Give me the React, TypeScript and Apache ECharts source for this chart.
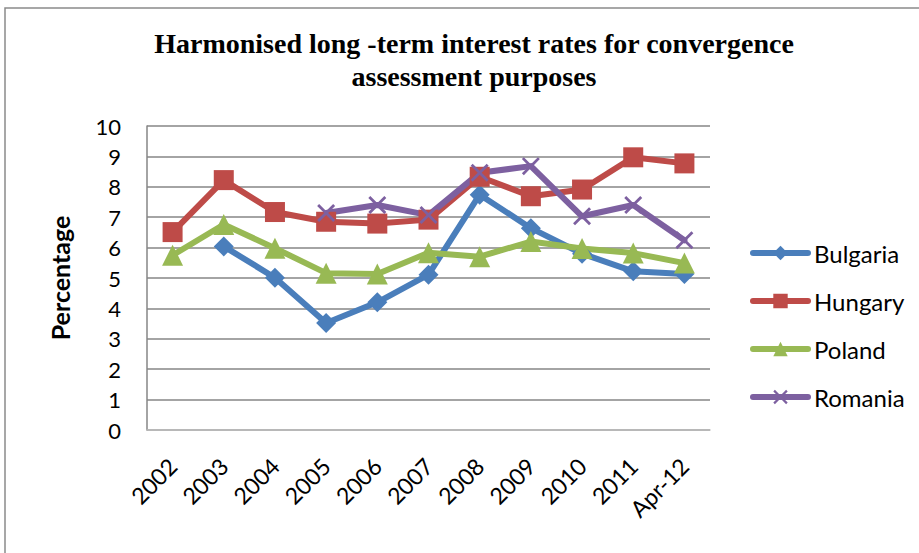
import React, { useEffect, useRef } from "react";
import * as echarts from "echarts";

const categories = ["2002", "2003", "2004", "2005", "2006", "2007", "2008", "2009", "2010", "2011", "Apr-12"];
const bulgaria = [null, 6.04, 5.01, 3.52, 4.2, 5.11, 7.74, 6.64, 5.8, 5.22, 5.13];
const hungary = [6.51, 8.22, 7.17, 6.85, 6.79, 6.92, 8.33, 7.69, 7.91, 8.97, 8.77];
const poland = [5.75, 6.76, 5.98, 5.16, 5.13, 5.83, 5.7, 6.2, 5.97, 5.82, 5.49];
const romania = [null, null, null, 7.14, 7.4, 7.07, 8.46, 8.68, 7.03, 7.4, 6.24];

const crossPath = "path://M0,1.1L1.1,0L5,3.9L8.9,0L10,1.1L6.1,5L10,8.9L8.9,10L5,6.1L1.1,10L0,8.9L3.9,5Z";

export default function App() {
  const ref = useRef<HTMLDivElement>(null);
  useEffect(() => {
    const chart = echarts.init(ref.current!, null, { renderer: "svg" });
    const font = "Lato, 'Noto Sans', sans-serif";
    const mk = (name: string, data: any[], color: string, symbol: string, size: number) => ({
      name,
      type: "line",
      data,
      symbol,
      symbolSize: size,
      connectNulls: false,
      lineStyle: { width: 6, color, cap: "round", join: "round" },
      itemStyle: { color },
    });
    chart.setOption({
      animation: false,
      backgroundColor: "#ffffff",
      title: {
        text: "Harmonised long -term interest rates for convergence\nassessment purposes",
        left: 469,
        textAlign: "center",
        top: 22,
        textStyle: {
          fontFamily: "'Liberation Serif', 'Times New Roman', serif",
          fontWeight: "bold",
          fontSize: 28,
          lineHeight: 33,
          color: "#000",
        },
      },
      graphic: [
        {
          type: "rect",
          shape: { x: 5, y: 8, width: 1000, height: 1000 },
          style: { fill: "none", stroke: "#8a8a8a", lineWidth: 1.5 },
          silent: true,
        },
      ],
      legend: {
        orient: "vertical",
        left: 750,
        top: 241,
        padding: 0,
        itemWidth: 55,
        itemHeight: 18,
        itemGap: 24,
        lineStyle: { width: 6 },
        textStyle: { fontFamily: font, fontSize: 24, color: "#000", padding: [0, 0, 0, 1] },
        data: ["Bulgaria", "Hungary", "Poland", "Romania"],
      },
      grid: { left: 147, right: 209, top: 126, bottom: 123 },
      xAxis: {
        type: "category",
        data: categories,
        boundaryGap: true,
        axisLine: { show: true, lineStyle: { color: "#bfbfbf", width: 1.5 } },
        axisTick: { show: false },
        axisLabel: {
          rotate: 45,
          fontFamily: font,
          fontSize: 23,
          color: "#000",
          margin: 32,
          interval: 0,
        },
      },
      yAxis: {
        type: "value",
        min: 0,
        max: 10,
        interval: 1,
        name: "Percentage",
        nameLocation: "middle",
        nameGap: 75,
        nameTextStyle: { fontFamily: font, fontSize: 25, fontWeight: "bold", color: "#000" },
        axisLine: { show: true, lineStyle: { color: "#868686", width: 1.5 } },
        axisTick: { show: false },
        splitLine: { show: true, lineStyle: { color: "#868686", width: 1.5 } },
        axisLabel: { fontFamily: font, fontSize: 22, color: "#000", margin: 26 },
      },
      series: [
        mk("Bulgaria", bulgaria, "#4a7ebb", "diamond", 20),
        mk("Hungary", hungary, "#be4b48", "rect", 20),
        mk("Poland", poland, "#98b954", "triangle", 21),
        mk("Romania", romania, "#7d60a0", crossPath, 18),
      ],
    });
    return () => chart.dispose();
  }, []);
  return (
    <div
      ref={ref}
      style={{ position: "fixed", left: 0, top: 0, width: 919, height: 553 }}
    />
  );
}
